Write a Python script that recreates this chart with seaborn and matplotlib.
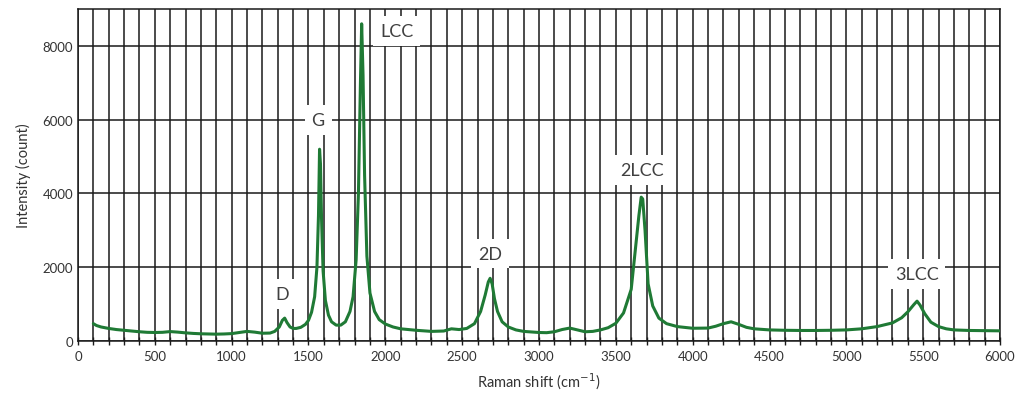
import matplotlib
matplotlib.use("Agg")
import matplotlib.pyplot as plt
import seaborn as sns
import pandas as pd
from matplotlib.ticker import MultipleLocator

# Raman spectrum (cm^-1, counts)
raman_shift = [100, 120, 150, 200, 250, 300, 350, 400, 450, 500, 550, 600, 650, 700, 750,
               800, 850, 900, 950, 1000, 1050, 1100, 1150, 1200, 1250, 1280, 1310, 1330, 1345,
               1360, 1380, 1400, 1420, 1450, 1480, 1500, 1520, 1540, 1555, 1565, 1572, 1578,
               1585, 1595, 1610, 1630, 1650, 1680, 1710, 1740, 1770, 1790, 1810, 1825, 1838,
               1846, 1855, 1865, 1880, 1900, 1930, 1960, 2000, 2050, 2100, 2200, 2300, 2380,
               2430, 2480, 2530, 2580, 2620, 2650, 2670, 2682, 2695, 2710, 2730, 2760, 2800,
               2850, 2900, 3000, 3050, 3100, 3150, 3200, 3250, 3300, 3350, 3400, 3450, 3500,
               3550, 3600, 3630, 3650, 3665, 3675, 3690, 3710, 3740, 3780, 3830, 3900, 4000,
               4100, 4150, 4200, 4250, 4300, 4350, 4400, 4500, 4600, 4700, 4800, 4900, 5000,
               5100, 5200, 5300, 5360, 5400, 5440, 5460, 5480, 5510, 5550, 5600, 5650, 5700,
               5800, 5900, 6000]
intensity = [470, 420, 380, 340, 310, 290, 270, 250, 235, 230, 235, 255, 240, 220, 205,
             195, 190, 185, 190, 200, 230, 260, 240, 210, 215, 260, 380, 560, 620,
             500, 380, 340, 340, 370, 450, 560, 780, 1200, 2000, 3400, 5200, 4800,
             3300, 1900, 1100, 700, 520, 430, 430, 520, 800, 1200, 2200, 4000, 7000,
             8600, 7200, 4500, 2300, 1300, 800, 580, 460, 380, 330, 290, 260, 270,
             330, 310, 340, 470, 800, 1250, 1600, 1700, 1550, 1150, 800, 520, 380,
             300, 260, 230, 225, 250, 310, 350, 300, 250, 260, 300, 360, 480,
             760, 1400, 2600, 3400, 3900, 3850, 3000, 1550, 950, 620, 470, 390, 345,
             350, 400, 470, 520, 450, 370, 330, 300, 290, 285, 285, 290, 300,
             330, 390, 490, 630, 790, 990, 1080, 970, 740, 510, 390, 330, 300,
             285, 280, 275]

peak_labels = ["D", "G", "LCC", "2D", "2LCC", "3LCC"]
label_x = [1330, 1563, 2074, 2681, 3668, 5458]
label_y = [1280, 5990, 8400, 2370, 4630, 1820]

x_major_ticks = list(range(0, 6001, 500))
y_major_ticks = [0, 2000, 4000, 6000, 8000]

df = pd.DataFrame({"shift": raman_shift, "intensity": intensity})

sns.set_style("white")
plt.rcParams["font.family"] = ["Lato", "DejaVu Sans"]

fig = plt.figure(figsize=(10.22, 4.02), dpi=100)
ax = fig.add_axes([0.0763, 0.1493, 0.9022, 0.8257])

# grid
ax.xaxis.set_major_locator(MultipleLocator(500))
ax.xaxis.set_minor_locator(MultipleLocator(100))
ax.set_yticks(y_major_ticks)
ax.set_xticks(x_major_ticks)
ax.grid(True, which="both", axis="x", color="#1a1a1a", linewidth=1.1, zorder=0)
ax.grid(True, which="major", axis="y", color="#1a1a1a", linewidth=1.1, zorder=0)
ax.set_axisbelow(True)

sns.lineplot(data=df, x="shift", y="intensity", ax=ax, color="#1f7a35",
             linewidth=2.2, zorder=3)

for t, lx, ly in zip(peak_labels, label_x, label_y):
    ax.text(lx, ly, t, ha="center", va="center", fontsize=13, color="#404040",
            zorder=4, bbox=dict(facecolor="white", edgecolor="none", pad=5))

ax.set_xlim(0, 6000)
ax.set_ylim(0, 9000)
ax.set_xlabel("Raman shift (cm$^{-1}$)", fontsize=10.5, color="#333333", labelpad=6)
ax.set_ylabel("Intensity (count)", fontsize=10.5, color="#333333", labelpad=8)
ax.tick_params(axis="x", which="both", direction="inout", length=6, width=1,
               color="#1a1a1a", labelsize=9.5, labelcolor="#333333", bottom=True)
ax.tick_params(axis="y", which="major", direction="inout", length=0,
               labelsize=9.5, labelcolor="#333333", left=True)
for s in ax.spines.values():
    s.set_color("#1a1a1a")
    s.set_linewidth(1.1)

fig.savefig("out.png", dpi=100)
